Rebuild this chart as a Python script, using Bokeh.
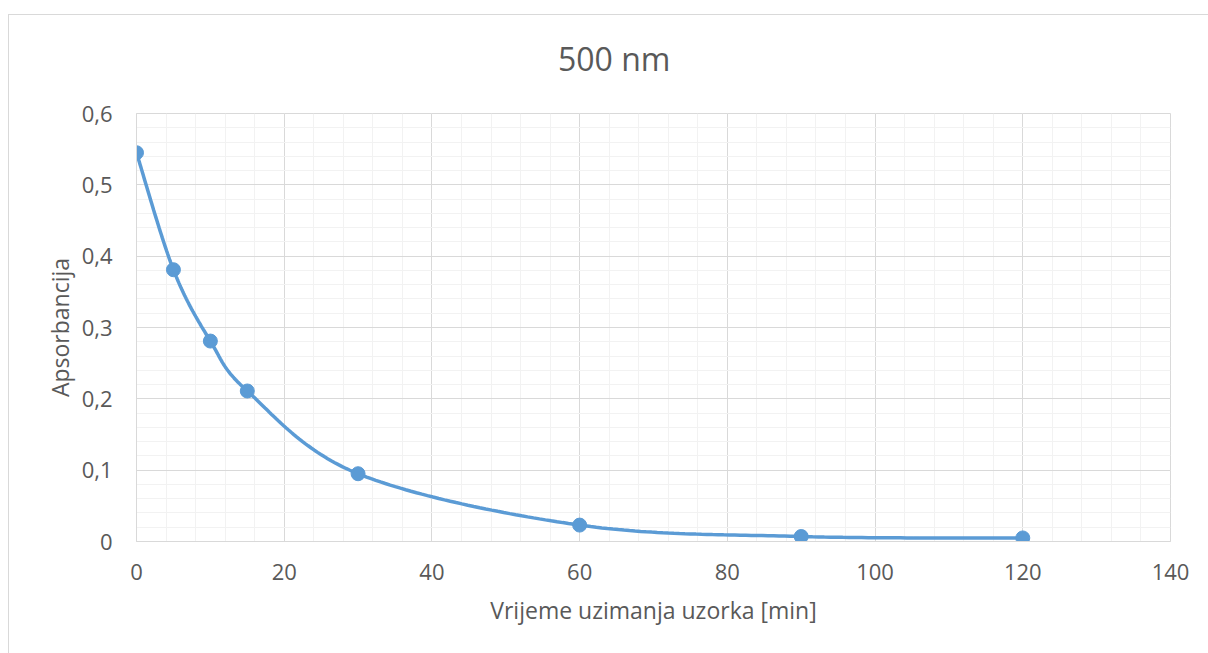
from bokeh.plotting import figure
from bokeh.models import Range1d, FixedTicker, Div
from bokeh.layouts import column
from bokeh.embed import file_html
from bokeh.resources import INLINE

# ---- data ----
time_min = [0, 5, 10, 15, 30, 60, 90, 120]
absorbance = [0.545, 0.381, 0.281, 0.211, 0.095, 0.023, 0.007, 0.005]
x_ticks = [0, 20, 40, 60, 80, 100, 120, 140]
y_ticks = [0, 0.1, 0.2, 0.3, 0.4, 0.5, 0.6]
y_tick_labels = ["0", "0,1", "0,2", "0,3", "0,4", "0,5", "0,6"]
title_text = "500 nm"
x_label = "Vrijeme uzimanja uzorka [min]"
y_label = "Apsorbancija"


def smooth(xs, ys, n=40):
    pts = list(zip(xs, ys))
    ext = [pts[0]] + pts + [pts[-1]]
    sx, sy = [], []
    for i in range(1, len(ext) - 2):
        p0, p1, p2, p3 = ext[i - 1], ext[i], ext[i + 1], ext[i + 2]
        c1 = (p1[0] + (p2[0] - p0[0]) / 6, p1[1] + (p2[1] - p0[1]) / 6)
        c2 = (p2[0] - (p3[0] - p1[0]) / 6, p2[1] - (p3[1] - p1[1]) / 6)
        for k in range(n + (1 if i == len(ext) - 3 else 0)):
            t = k / n
            a = (1 - t) ** 3
            b = 3 * (1 - t) ** 2 * t
            c = 3 * (1 - t) * t ** 2
            d = t ** 3
            sx.append(a * p1[0] + b * c1[0] + c * c2[0] + d * p2[0])
            sy.append(a * p1[1] + b * c1[1] + c * c2[1] + d * p2[1])
    return sx, sy


TEXT = "#595959"
FONT = "Open Sans"
W = 1199
TITLE_H = 68
LINE_H = 78
H = 638 - TITLE_H - 10

title_div = Div(
    text=title_text, width=W, height=TITLE_H,
    styles={"font-family": "'Open Sans'", "font-size": "32px",
            "color": TEXT, "line-height": f"{LINE_H}px",
            "text-align": "left", "padding-left": "544px",
            "white-space": "nowrap", "overflow": "visible"},
)

p = figure(
    width=W, height=H,
    output_backend="svg", toolbar_location=None,
    x_range=Range1d(0, 140), y_range=Range1d(0, 0.6),
    min_border_left=127, min_border_right=38,
    min_border_top=20, min_border_bottom=112,
)

p.outline_line_color = "#d9d9d9"

p.xaxis.ticker = FixedTicker(ticks=x_ticks, minor_ticks=list(range(0, 141, 4)))
p.yaxis.ticker = FixedTicker(ticks=y_ticks,
                             minor_ticks=[round(i * 0.02, 2) for i in range(31)])
p.yaxis.major_label_overrides = {t: l for t, l in zip(y_ticks, y_tick_labels)}

for ax in (p.xaxis, p.yaxis):
    ax.axis_line_color = "#d9d9d9"
    ax.major_tick_line_color = None
    ax.minor_tick_line_color = None
    ax.major_label_text_font = FONT
    ax.major_label_text_font_size = "22px"
    ax.major_label_text_color = TEXT
    ax.axis_label_text_font = FONT
    ax.axis_label_text_font_size = "23px"
    ax.axis_label_text_font_style = "normal"
    ax.axis_label_text_color = TEXT

p.xaxis.axis_label = x_label
p.yaxis.axis_label = y_label
p.xaxis.major_label_standoff = 16
p.yaxis.major_label_standoff = 18
p.xaxis.axis_label_standoff = 11
p.yaxis.axis_label_standoff = 3

p.xgrid.grid_line_color = "#d9d9d9"
p.ygrid.grid_line_color = "#d9d9d9"
p.xgrid.minor_grid_line_color = "#f2f2f2"
p.ygrid.minor_grid_line_color = "#f2f2f2"

sx, sy = smooth(time_min, absorbance)
p.line(sx, sy, line_color="#5b9bd5", line_width=3.5)
p.scatter(time_min, absorbance, size=14, fill_color="#5b9bd5",
          line_color="#5b9bd5")

layout = column(
    title_div, p, spacing=0,
    styles={"margin-top": "14px", "margin-left": "8px",
            "border-left": "1px solid #d9d9d9",
            "border-top": "1px solid #d9d9d9"},
)

open("out.html", "w").write(file_html(layout, INLINE))
